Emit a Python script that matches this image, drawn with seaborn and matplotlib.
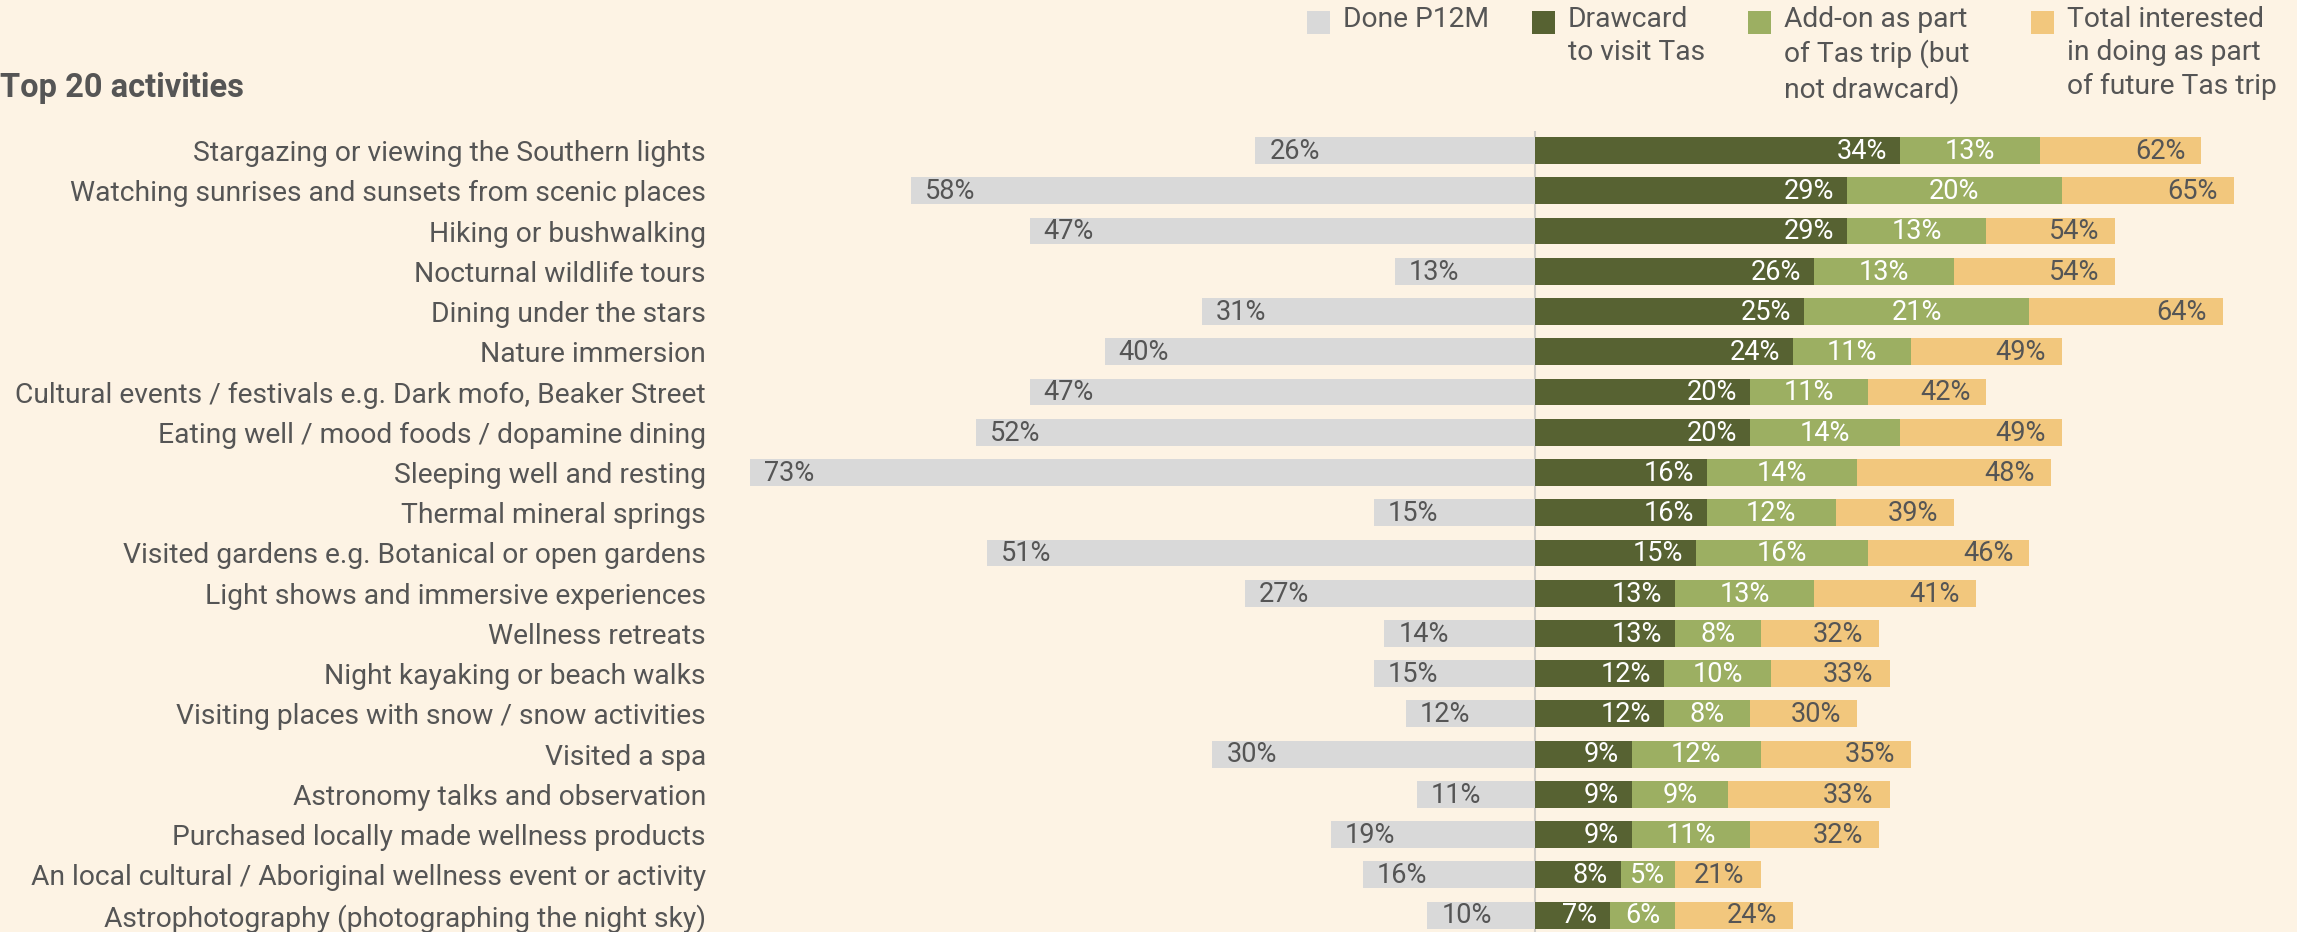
import matplotlib
matplotlib.use("Agg")
import matplotlib.pyplot as plt
from matplotlib.patches import Rectangle
import seaborn as sns
import pandas as pd
import numpy as np

categories = [
    "Stargazing or viewing the Southern lights",
    "Watching sunrises and sunsets from scenic places",
    "Hiking or bushwalking",
    "Nocturnal wildlife tours",
    "Dining under the stars",
    "Nature immersion",
    "Cultural events / festivals e.g. Dark mofo, Beaker Street",
    "Eating well / mood foods / dopamine dining",
    "Sleeping well and resting",
    "Thermal mineral springs",
    "Visited gardens e.g. Botanical or open gardens",
    "Light shows and immersive experiences",
    "Wellness retreats",
    "Night kayaking or beach walks",
    "Visiting places with snow / snow activities",
    "Visited a spa",
    "Astronomy talks and observation",
    "Purchased locally made wellness products",
    "An local cultural / Aboriginal wellness event or activity",
    "Astrophotography (photographing the night sky)",
]
done_p12m = [26, 58, 47, 13, 31, 40, 47, 52, 73, 15, 51, 27, 14, 15, 12, 30, 11, 19, 16, 10]
drawcard = [34, 29, 29, 26, 25, 24, 20, 20, 16, 16, 15, 13, 13, 12, 12, 9, 9, 9, 8, 7]
addon = [13, 20, 13, 13, 21, 11, 11, 14, 14, 12, 16, 13, 8, 10, 8, 12, 9, 11, 5, 6]
total_interested = [62, 65, 54, 54, 64, 49, 42, 49, 48, 39, 46, 41, 32, 33, 30, 35, 33, 32, 21, 24]

legend_labels = ["Done P12M", "Drawcard\nto visit Tas", "Add-on as part\nof Tas trip (but\nnot drawcard)",
                 "Total interested\nin doing as part\nof future Tas trip"]
title = "Top 20 activities"

BG = "#FDF3E4"
C_GRAY = "#D9D9D9"
C_DARK = "#576232"
C_LIGHT = "#9CAF62"
C_TAN = "#F2C77D"
TXT = "#555555"
FONT = "Roboto"
FS = 20.3
FSV = 19.5

sns.set_theme(style="white")
plt.rcParams["font.family"] = [FONT, "DejaVu Sans"]

df = pd.DataFrame({
    "cat": categories,
    "done_neg": [-v for v in done_p12m],
    "draw": drawcard,
    "draw_add": [d + a for d, a in zip(drawcard, addon)],
    "total": total_interested,
})

fig = plt.figure(figsize=(22.97, 9.32), dpi=100, facecolor=BG)
ax = fig.add_axes([735 / 2297, 0.0, 1 - 735 / 2297, 1 - 120 / 932])
ax.set_facecolor(BG)

w = 0.667
sns.barplot(data=df, x="done_neg", y="cat", order=categories, color=C_GRAY, width=w,
            linewidth=0, saturation=1, ax=ax, orient="h")
sns.barplot(data=df, x="total", y="cat", order=categories, color=C_TAN, width=w,
            linewidth=0, saturation=1, ax=ax, orient="h")
sns.barplot(data=df, x="draw_add", y="cat", order=categories, color=C_LIGHT, width=w,
            linewidth=0, saturation=1, ax=ax, orient="h")
sns.barplot(data=df, x="draw", y="cat", order=categories, color=C_DARK, width=w,
            linewidth=0, saturation=1, ax=ax, orient="h")

ax.set_xlim(-74.4, 70.9)
ax.set_ylim(19.42, -0.76)
ax.vlines(0, -0.48, 19.42, color="#D0CCC6", lw=1.5, zorder=0.5)

for i in range(len(categories)):
    dn = done_p12m[i]; d = drawcard[i]; a = addon[i]; t = total_interested[i]
    ax.text(-dn + 1.3, i + 0.02, f"{dn}%", ha="left", va="center", fontsize=FSV, color=TXT)
    ax.text(d - 1.2, i + 0.02, f"{d}%", ha="right", va="center", fontsize=FSV, color="white")
    ax.text(d + a / 2, i + 0.02, f"{a}%", ha="center", va="center", fontsize=FSV, color="white")
    ax.text(t - 1.5, i + 0.02, f"{t}%", ha="right", va="center", fontsize=FSV, color=TXT)

ax.set_xlabel("")
ax.set_ylabel("")
ax.set_xticks([])
ax.tick_params(axis="y", length=0, pad=21, labelsize=FS, labelcolor=TXT)
for s in ax.spines.values():
    s.set_visible(False)

fig.text(0.0, 1 - 88 / 932, title, ha="left", va="center", fontsize=23.5, fontweight="semibold", color=TXT)

# legend
leg_colors = [C_GRAY, C_DARK, C_LIGHT, C_TAN]
sq_x = [1307, 1532, 1748, 2031]
for c, x, lab in zip(leg_colors, sq_x, legend_labels):
    fig.patches.append(Rectangle((x / 2297, 1 - 34 / 932), 23 / 2297, 23 / 932,
                                 transform=fig.transFigure, facecolor=c, edgecolor="none"))
    fig.text((x + 36) / 2297, 1 - 6 / 932, lab, ha="left", va="top", fontsize=FS, color=TXT,
             linespacing=1.3)

fig.savefig("out.png", dpi=100, facecolor=BG)
